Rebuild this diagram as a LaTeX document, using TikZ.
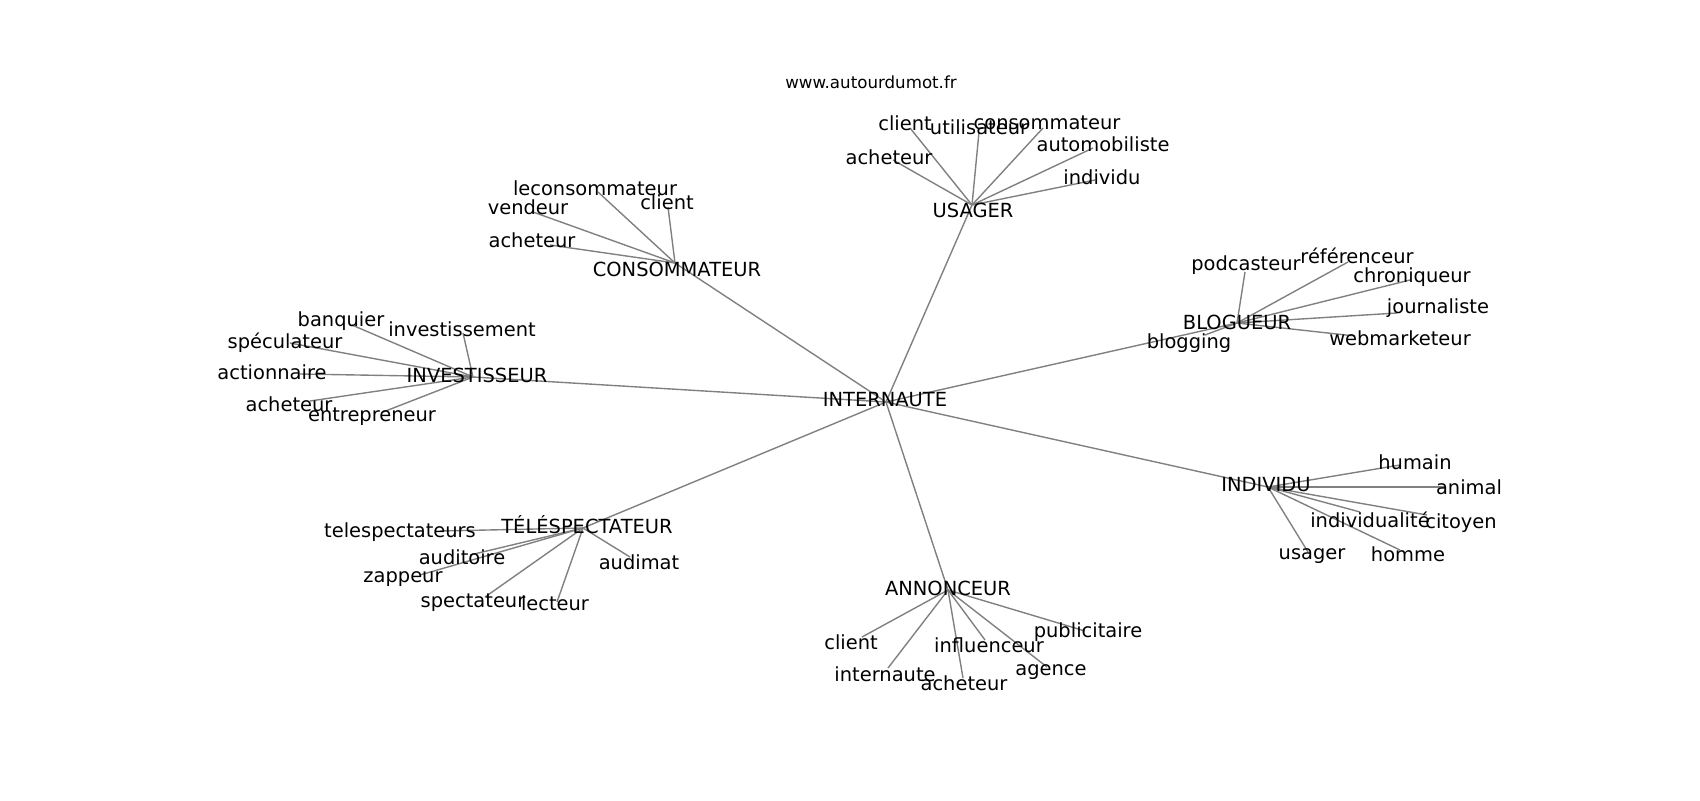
\documentclass[tikz,border=0pt]{standalone}
\usepackage{fontspec}
\setmainfont{DejaVu Sans}
\begin{document}
\begin{tikzpicture}[x=0.72pt,y=-0.72pt,
  edge/.style={draw=black!50, line width=1pt},
  lbl/.style={inner sep=0pt, anchor=center, text=black, font=\fontsize{14}{16}\selectfont},
  ttl/.style={inner sep=0pt, anchor=center, text=black, font=\fontsize{12}{14}\selectfont}]
\useasboundingbox[fill=white] (0,0) rectangle (1700,800);

% hub points
\coordinate (N) at (886,402);
\coordinate (U) at (972,205);
\coordinate (C) at (675,263);
\coordinate (I) at (473,377);
\coordinate (T) at (583,528);
\coordinate (B) at (1237,323);
\coordinate (D) at (1268,487);
\coordinate (A) at (948,590);

% leaf end points
\coordinate (u1) at (910,128);
\coordinate (u2) at (979,132);
\coordinate (u3) at (1043,128);
\coordinate (u4) at (1093,148);
\coordinate (u5) at (1095,180);
\coordinate (u6) at (893,160);

\coordinate (c1) at (598,192);
\coordinate (c2) at (668,207);
\coordinate (c3) at (533,212);
\coordinate (c4) at (550,245);

\coordinate (i1) at (352,325);
\coordinate (i2) at (463,333);
\coordinate (i3) at (290,343);
\coordinate (i4) at (300,374);
\coordinate (i5) at (310,401);
\coordinate (i6) at (383,412);

\coordinate (t1) at (440,531);
\coordinate (t2) at (470,555);
\coordinate (t3) at (420,575);
\coordinate (t4) at (485,597);
\coordinate (t5) at (557,602);
\coordinate (t6) at (630,557);

\coordinate (b1) at (1245,272);
\coordinate (b2) at (1348,262);
\coordinate (b3) at (1410,280);
\coordinate (b4) at (1397,313);
\coordinate (b5) at (1355,336);
\coordinate (b6) at (1205,335);

\coordinate (d1) at (1400,465);
\coordinate (d2) at (1445,487);
\coordinate (d3) at (1360,512);
\coordinate (d4) at (1427,515);
\coordinate (d5) at (1400,550);
\coordinate (d6) at (1308,552);

\coordinate (a1) at (862,637);
\coordinate (a2) at (888,668);
\coordinate (a3) at (963,678);
\coordinate (a4) at (985,640);
\coordinate (a5) at (1047,667);
\coordinate (a6) at (1085,631);

% edges
\foreach \h in {U,C,I,T,B,D,A} \draw[edge] (N) -- (\h);
\foreach \k in {1,...,6} \draw[edge] (U) -- (u\k);
\foreach \k in {1,...,4} \draw[edge] (C) -- (c\k);
\foreach \k in {1,...,6} \draw[edge] (I) -- (i\k);
\foreach \k in {1,...,6} \draw[edge] (T) -- (t\k);
\foreach \k in {1,...,6} \draw[edge] (B) -- (b\k);
\foreach \k in {1,...,6} \draw[edge] (D) -- (d\k);
\foreach \k in {1,...,6} \draw[edge] (A) -- (a\k);

% title
\node[ttl] (title) at (871,82) {www.autourdumot.fr};

% hub labels
\node[lbl] (Nl) at (885,400) {INTERNAUTE};
\node[lbl] (Ul) at (973,210) {USAGER};
\node[lbl] (Cl) at (677,269) {CONSOMMATEUR};
\node[lbl] (Il) at (477,375) {INVESTISSEUR};
\node[lbl] (Tl) at (587,525) {TÉLÉSPECTATEUR};
\node[lbl] (Bl) at (1237,322) {BLOGUEUR};
\node[lbl] (Dl) at (1266,485) {INDIVIDU};
\node[lbl] (Al) at (948,588) {ANNONCEUR};

% USAGER leaves
\node[lbl] (u1l) at (905,123) {client};
\node[lbl] (u2l) at (979,127) {utilisateur};
\node[lbl] (u3l) at (1047,123) {consommateur};
\node[lbl] (u4l) at (1103,144) {automobiliste};
\node[lbl] (u5l) at (1102,177) {individu};
\node[lbl] (u6l) at (889,157) {acheteur};

% CONSOMMATEUR leaves
\node[lbl] (c1l) at (595,188) {leconsommateur};
\node[lbl] (c2l) at (667,202) {client};
\node[lbl] (c3l) at (528,207) {vendeur};
\node[lbl] (c4l) at (532,240) {acheteur};

% INVESTISSEUR leaves
\node[lbl] (i1l) at (341,321) {banquier};
\node[lbl] (i2l) at (462,329) {investissement};
\node[lbl] (i3l) at (285,343) {spéculateur};
\node[lbl] (i4l) at (272,372) {actionnaire};
\node[lbl] (i5l) at (289,404) {acheteur};
\node[lbl] (i6l) at (372,417) {entrepreneur};

% TELESPECTATEUR leaves
\node[lbl] (t1l) at (400,532) {telespectateurs};
\node[lbl] (t2l) at (462,557) {auditoire};
\node[lbl] (t3l) at (403,579) {zappeur};
\node[lbl] (t4l) at (473,603) {spectateur};
\node[lbl] (t5l) at (555,603) {lecteur};
\node[lbl] (t6l) at (639,562) {audimat};

% BLOGUEUR leaves
\node[lbl] (b1l) at (1246,265) {podcasteur};
\node[lbl] (b2l) at (1357,256) {référenceur};
\node[lbl] (b3l) at (1412,277) {chroniqueur};
\node[lbl] (b4l) at (1438,308) {journaliste};
\node[lbl] (b5l) at (1400,338) {webmarketeur};
\node[lbl] (b6l) at (1189,343) {blogging};

% INDIVIDU leaves
\node[lbl] (d1l) at (1415,462) {humain};
\node[lbl] (d2l) at (1469,487) {animal};
\node[lbl] (d3l) at (1370,520) {individualité};
\node[lbl] (d4l) at (1461,523) {citoyen};
\node[lbl] (d5l) at (1408,554) {homme};
\node[lbl] (d6l) at (1312,556) {usager};

% ANNONCEUR leaves
\node[lbl] (a1l) at (851,642) {client};
\node[lbl] (a2l) at (885,674) {internaute};
\node[lbl] (a3l) at (964,683) {acheteur};
\node[lbl] (a4l) at (989,645) {influenceur};
\node[lbl] (a5l) at (1051,672) {agence};
\node[lbl] (a6l) at (1088,632) {publicitaire};
\end{tikzpicture}
\end{document}
